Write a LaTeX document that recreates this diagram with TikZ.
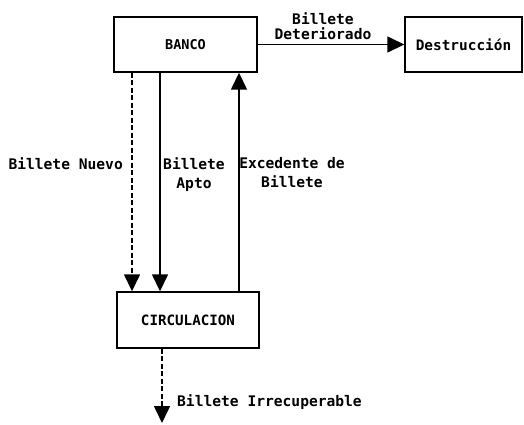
\documentclass[tikz,border=0pt]{standalone}
\usepackage{fontspec}
\setmonofont{DejaVu Sans Mono}
\usetikzlibrary{arrows.meta}
\tikzset{
  box/.style={draw, line width=1.4pt, minimum height=55pt, inner sep=0pt},
  lbl/.style={font=\ttfamily\bfseries\fontsize{14.6}{19}\selectfont, inner sep=0pt},
  flow/.style={line width=1.5pt, -{Triangle[width=16pt,length=17pt]}},
  dflow/.style={flow, dash pattern=on 5pt off 2.5pt},
}
\begin{document}
\begin{tikzpicture}[x=1pt,y=-1pt]
\useasboundingbox (0,0) rectangle (524,424);
\node[box, minimum width=143pt, font=\ttfamily\bfseries\fontsize{13.5}{15}\selectfont] (banco) at (185.5,44.5) {BANCO};
\node[box, minimum width=117pt, font=\ttfamily\bfseries\fontsize{14.4}{17}\selectfont] (dest) at (463.5,44.5) {Destrucción};
\node[box, minimum width=142pt, minimum height=56pt, font=\ttfamily\bfseries\fontsize{14.2}{16}\selectfont] (circ) at (188,320) {CIRCULACION};
\coordinate (lost) at (162,423);

\draw[flow] (banco.east) -- (dest.west);
\draw[dflow] (banco.south -| 132,0) -- (circ.north -| 132,0);
\draw[flow] (banco.south -| 160,0) -- (circ.north -| 160,0);
\draw[flow] (circ.north -| 239,0) -- (banco.south -| 239,0);
\draw[dflow] (circ.south -| 162,0) -- (lost);

\node[lbl, align=center, font=\ttfamily\bfseries\fontsize{14.6}{15}\selectfont] (ldet) at (323,26) {Billete\\Deteriorado};
\node[lbl, anchor=east] (lnuevo) at (123,164) {Billete Nuevo};
\node[lbl, align=center, anchor=north] (lapto) at (194,157) {Billete\\Apto};
\node[lbl, align=center, anchor=north] (lexc) at (292,157) {Excedente de\\Billete};
\node[lbl, anchor=west] (lirr) at (177,402) {Billete Irrecuperable};
\end{tikzpicture}
\end{document}
